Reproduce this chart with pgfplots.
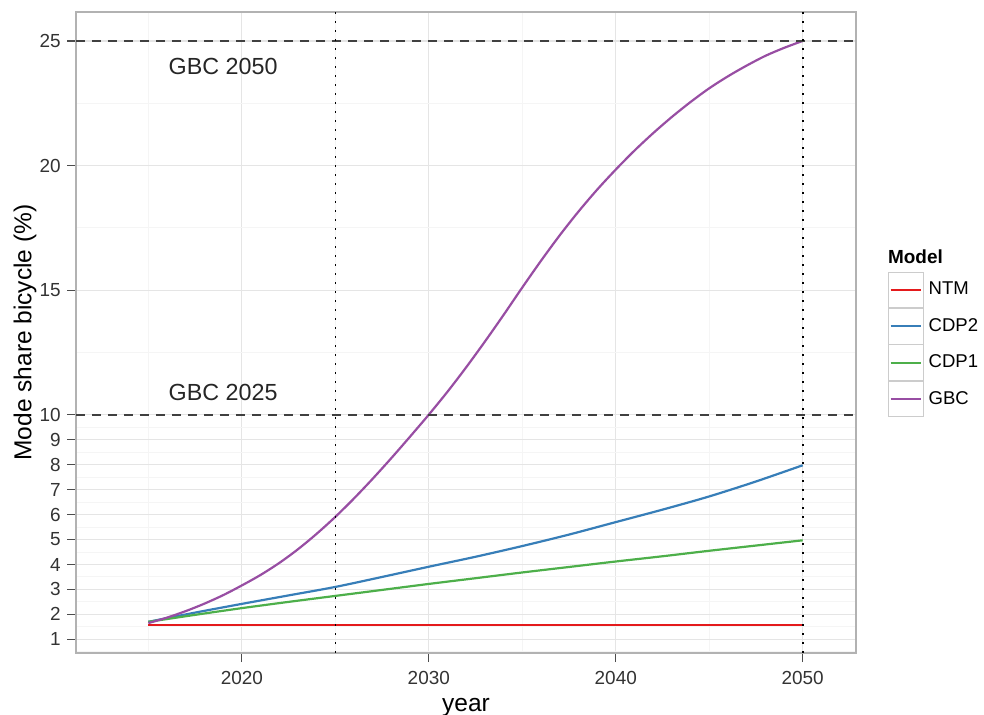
\documentclass[border=0pt]{standalone}
\usepackage{pgfplots}
\pgfplotsset{compat=1.18}
\usepackage{fontspec}
\setmainfont{Liberation Sans}
\definecolor{cRed}{HTML}{E41A1C}
\definecolor{cBlue}{HTML}{377EB8}
\definecolor{cGreen}{HTML}{4DAF4A}
\definecolor{cPurple}{HTML}{984EA3}
\begin{document}
\begin{tikzpicture}
\begin{axis}[
  scale only axis,
  width=390bp, height=320.5bp,
  xmin=2011.13, xmax=2052.85,
  ymin=0.45, ymax=26.16,
  clip=false,
  axis line style={black!30, line width=0.8bp},
  tick pos=left,
  tick align=outside,
  major tick length=4.5bp,
  minor tick length=0pt,
  every tick/.style={black!70, line width=0.6bp},
  xtick={2020,2030,2040,2050},
  minor xtick={2015,2025,2035,2045},
  ytick={1,2,3,4,5,6,7,8,9,10,15,20,25},
  minor ytick={0.5,1.5,2.5,3.5,4.5,5.5,6.5,7.5,8.5,9.5,12.5,17.5,22.5},
  grid=both,
  major grid style={black!10, line width=0.6bp},
  minor grid style={black!4, line width=0.5bp},
  /pgf/number format/assume math mode=true,
  /pgf/number format/1000 sep={},
  ticklabel style={font=\fontsize{9.5}{10}\selectfont, text=black!80},
  xticklabel style={inner sep=0pt, anchor=north, yshift=-4.3bp},
  yticklabel style={inner sep=0pt, anchor=east, xshift=-3bp},
  xlabel={year},
  ylabel={Mode share bicycle (\%)},
  label style={font=\fontsize{12.3}{13}\selectfont},
  xlabel style={at={(axis description cs:0.5,-0.0916)}, anchor=base},
  ylabel style={at={(axis description cs:-0.05705,0.5)}, anchor=base},
  legend style={at={(axis description cs:1.04064,0.59485)}, anchor=north west,
    draw=none, fill=none, inner sep=0pt, outer sep=0pt, row sep=0pt, column sep=2.5bp,
    font=\fontsize{9.3}{10}\selectfont, nodes={inner sep=0pt}},
  legend cell align=left,
  legend image code/.code={
    \draw[draw=black!20, line width=0.5bp, solid, fill=white] (0bp,-8.85bp) rectangle (17.5bp,8.85bp);
    \draw[#1] (1.25bp,0bp) -- (16.25bp,0bp);
  },
]
\addplot[cRed, line width=1.1bp] coordinates {(2015,1.575) (2050,1.575)};
\addlegendentry{NTM}
\addplot[cBlue, line width=1.1bp, smooth] coordinates {
(2015,1.7) (2017.5,2.07) (2020,2.42) (2022.5,2.76) (2025,3.1) (2027.5,3.5)
(2030,3.91) (2032.5,4.31) (2035,4.74) (2037.5,5.2) (2040,5.7) (2042.5,6.2)
(2045,6.73) (2047.5,7.33) (2050,7.98)};
\addlegendentry{CDP2}
\addplot[cGreen, line width=1.1bp, smooth] coordinates {
(2015,1.7) (2017.5,1.98) (2020,2.25) (2022.5,2.5) (2025,2.74) (2027.5,2.98)
(2030,3.22) (2032.5,3.45) (2035,3.68) (2037.5,3.9) (2040,4.12) (2042.5,4.33)
(2045,4.55) (2047.5,4.76) (2050,4.97)};
\addlegendentry{CDP1}
\addplot[cPurple, line width=1.1bp, smooth] coordinates {
(2015,1.65) (2016,1.87) (2017,2.13) (2018,2.43) (2019,2.77) (2020,3.16)
(2021,3.58) (2022,4.06) (2023,4.61) (2024,5.23) (2025,5.91) (2026,6.65)
(2027,7.44) (2028,8.27) (2029,9.13) (2030,10.01) (2031,10.93) (2032,11.91)
(2033,12.94) (2034,14.01) (2035,15.11) (2036,16.18) (2037,17.20) (2038,18.15)
(2039,19.03) (2040,19.84) (2041,20.60) (2042,21.30) (2043,21.95) (2044,22.55)
(2045,23.10) (2046,23.58) (2047,24.01) (2048,24.40) (2049,24.72) (2050,25.0)};
\addlegendentry{GBC}
\addplot[forget plot, black!75, line width=1bp, dash pattern=on 4.5bp off 3.5bp] coordinates {(2011.13,10) (2052.85,10)};
\addplot[forget plot, black!75, line width=1bp, dash pattern=on 4.5bp off 3.5bp] coordinates {(2011.13,25) (2052.85,25)};
\addplot[forget plot, black, line width=0.8bp, dash pattern=on 0.8bp off 3.7bp] coordinates {(2025,0.45) (2025,26.16)};
\addplot[forget plot, black, line width=0.8bp, dash pattern=on 0.8bp off 3.7bp] coordinates {(2050,0.45) (2050,26.16)};
\node[font=\fontsize{11.7}{12}\selectfont, text=black!85, inner sep=0pt] at (axis cs:2019,23.97) {GBC 2050};
\node[font=\fontsize{11.7}{12}\selectfont, text=black!85, inner sep=0pt] at (axis cs:2019,10.91) {GBC 2025};
\node[font=\bfseries\fontsize{9.5}{10}\selectfont, anchor=base west, inner sep=0pt] at (axis description cs:1.04064,0.60796) {Model};
\end{axis}
\pgfresetboundingbox
\path ([shift={(-38bp,-31bp)}]current axis.south west) rectangle ([shift={(64bp,6bp)}]current axis.north east);
\end{tikzpicture}
\end{document}
